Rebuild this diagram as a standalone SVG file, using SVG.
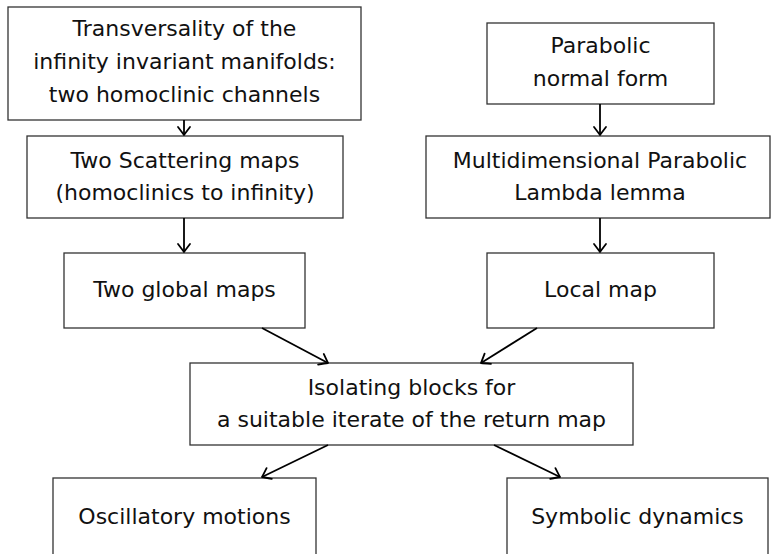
<svg xmlns="http://www.w3.org/2000/svg" width="771" height="554" viewBox="0 0 771 554">
<defs>
<marker id="arr" markerUnits="userSpaceOnUse" markerWidth="18" markerHeight="18" viewBox="-11 -9 13 18" refX="0" refY="0" orient="auto">
<path d="M-8,-6 Q-2.5,-1.8 0,0 Q-2.5,1.8 -8,6" fill="none" stroke="#000" stroke-width="1.8" stroke-linecap="round" stroke-linejoin="round"/>
</marker>
</defs>
<style>
.box{fill:#fff;stroke:#333;stroke-width:1.3}
.t{font-family:"DejaVu Sans",sans-serif;font-size:22px;fill:#111;text-anchor:middle}
.c{stroke:#000;stroke-width:1.8;fill:none;marker-end:url(#arr)}
</style>
<rect width="771" height="554" fill="#fff"/>
<g id="n1"><rect class="box" x="8" y="7" width="353" height="113"/>
<text class="t" x="184.5" y="36">Transversality of the</text>
<text class="t" x="184.5" y="69">infinity invariant manifolds:</text>
<text class="t" x="184.5" y="102">two homoclinic channels</text></g>
<g id="n2"><rect class="box" x="27" y="136" width="316" height="82"/>
<text class="t" x="185" y="168">Two Scattering maps</text>
<text class="t" x="185" y="200">(homoclinics to infinity)</text></g>
<g id="n3"><rect class="box" x="487" y="23" width="227" height="81"/>
<text class="t" x="600.5" y="53">Parabolic</text>
<text class="t" x="600.5" y="86">normal form</text></g>
<g id="n4"><rect class="box" x="426" y="136" width="344" height="82"/>
<text class="t" x="600" y="168">Multidimensional Parabolic</text>
<text class="t" x="600" y="200">Lambda lemma</text></g>
<g id="n5"><rect class="box" x="64" y="253" width="241" height="75"/>
<text class="t" x="184.5" y="297">Two global maps</text></g>
<g id="n6"><rect class="box" x="487" y="253" width="227" height="75"/>
<text class="t" x="600.5" y="297">Local map</text></g>
<g id="n7"><rect class="box" x="190" y="363" width="443" height="82"/>
<text class="t" x="411.5" y="395">Isolating blocks for</text>
<text class="t" x="411.5" y="427">a suitable iterate of the return map</text></g>
<g id="n8"><rect class="box" x="53" y="478" width="263" height="90"/>
<text class="t" x="184.5" y="524">Oscillatory motions</text></g>
<g id="n9"><rect class="box" x="507" y="478" width="261" height="90"/>
<text class="t" x="637.5" y="524">Symbolic dynamics</text></g>
<g id="connectors">
<line class="c" x1="184" y1="120" x2="184" y2="135"/>
<line class="c" x1="184" y1="218" x2="184" y2="252"/>
<line class="c" x1="600" y1="104" x2="600" y2="135"/>
<line class="c" x1="600" y1="218" x2="600" y2="252"/>
<line class="c" x1="262" y1="328" x2="328" y2="363"/>
<line class="c" x1="537" y1="328" x2="481" y2="363"/>
<line class="c" x1="328" y1="445" x2="262" y2="477"/>
<line class="c" x1="494" y1="445" x2="560" y2="477"/>
</g>
</svg>
